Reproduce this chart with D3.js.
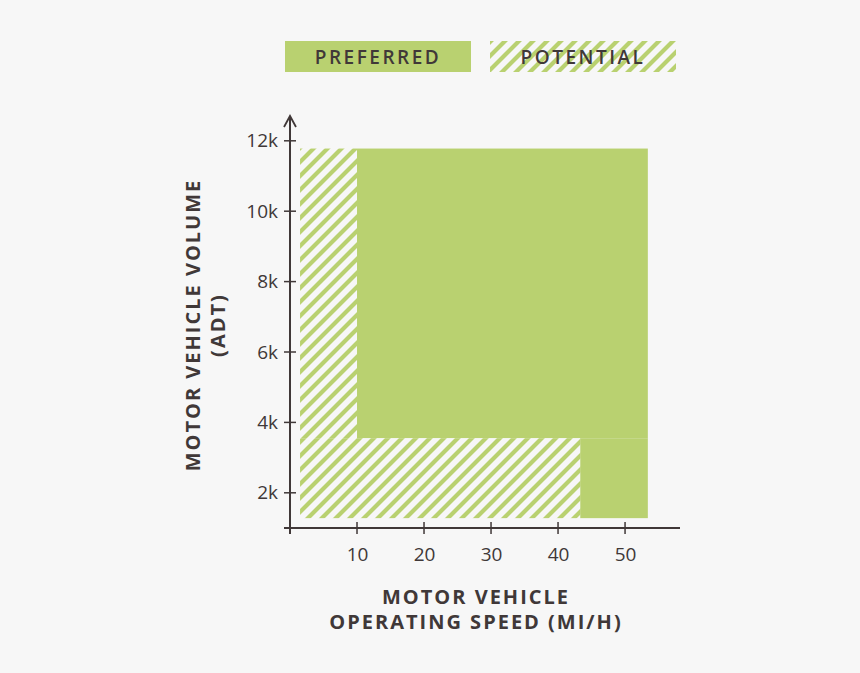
<!DOCTYPE html><html><head><script src="https://cdn.jsdelivr.net/npm/d3@7"></script>
<style>body{margin:0;background:#f7f7f7}</style></head><body><svg id="c" width="860" height="673"></svg>
<script>
const xTicks=[10,20,30,40,50];
const yTicks=[2,4,6,8,10,12];
const yTickLabels=["2k","4k","6k","8k","10k","12k"];
const preferredRegions=[{x0:10,x1:53.4,y0:3.55,y1:11.78},{x0:43.3,x1:53.4,y0:1.28,y1:3.55}];
const potentialRegions=[{x0:1.5,x1:10,y0:3.55,y1:11.78},{x0:1.5,x1:43.3,y0:1.28,y1:3.55}];
const legendLabels=["PREFERRED","POTENTIAL"];
const green="#b9d170",ink="#403838";
const svg=d3.select("#c");
svg.append("rect").attr("width",860).attr("height",673).attr("fill","#f7f7f7");
const defs=svg.append("defs");
const p=defs.append("pattern").attr("id","h").attr("patternUnits","userSpaceOnUse").attr("width",14).attr("height",14);
p.append("rect").attr("width",14).attr("height",14).attr("fill","#f7f7f7");
p.append("path").attr("d","M-3.5,3.5 l7,-7 M0,14 l14,-14 M10.5,17.5 l7,-7").attr("stroke",green).attr("stroke-width",4.2);
const x=d3.scaleLinear().domain([0,58.2]).range([290,680]);
const y=d3.scaleLinear().domain([1,12]).range([528,140.8]);
svg.selectAll(".pr").data(preferredRegions).join("rect").attr("x",d=>x(d.x0)).attr("width",d=>x(d.x1)-x(d.x0)).attr("y",d=>y(d.y1)).attr("height",d=>y(d.y0)-y(d.y1)).attr("fill",green);
svg.selectAll(".po").data(potentialRegions).join("rect").attr("x",d=>x(d.x0)).attr("width",d=>x(d.x1)-x(d.x0)).attr("y",d=>y(d.y1)).attr("height",d=>y(d.y0)-y(d.y1)).attr("fill","url(#h)");
const font="'Open Sans', sans-serif";
const xa=svg.append("g").attr("transform","translate(0,528)").call(d3.axisBottom(x).tickValues(xTicks).tickSize(0).tickPadding(20));
xa.select(".domain").attr("stroke",ink).attr("stroke-width",2).attr("d","M284,0H680");
xTicks.forEach(t=>xa.append("line").attr("x1",x(t)).attr("x2",x(t)).attr("y1",-6).attr("y2",6).attr("stroke",ink).attr("stroke-width",1.5));
xa.selectAll("text").attr("font-family",font).attr("font-size",19).attr("fill",ink).attr("dy","0.71em");
const ya=svg.append("g").attr("transform","translate(290,0)").call(d3.axisLeft(y).tickValues(yTicks).tickFormat((d,i)=>yTickLabels[i]).tickSize(0).tickPadding(12));
ya.select(".domain").attr("stroke",ink).attr("stroke-width",2).attr("d","M0,534V116");
yTicks.forEach(t=>ya.append("line").attr("x1",-6).attr("x2",6).attr("y1",y(t)).attr("y2",y(t)).attr("stroke",ink).attr("stroke-width",1.5));
ya.selectAll("text").attr("font-family",font).attr("font-size",19).attr("fill",ink);
svg.append("path").attr("d","M284,127 L290,116 L296,127").attr("fill","none").attr("stroke",ink).attr("stroke-width",1.8);
svg.selectAll("text").attr("stroke","none");
const t=(xx,yy,s,rot)=>svg.append("text").attr("x",xx).attr("y",yy).attr("text-anchor","middle").attr("font-family",font).attr("font-weight",700).attr("font-size",20).attr("letter-spacing",2).attr("fill",ink).attr("transform",rot?`rotate(-90,${xx},${yy})`:null).text(s);
t(476,604,"MOTOR VEHICLE");t(476,629,"OPERATING SPEED (MI/H)");
t(200,325,"MOTOR VEHICLE VOLUME",true);t(225,325,"(ADT)",true);
const lg=[{x:285,f:green},{x:490,f:"url(#h)"}];
lg.forEach((l,i)=>{svg.append("rect").attr("x",l.x).attr("y",41).attr("width",186).attr("height",31).attr("fill",l.f);
svg.append("text").attr("x",l.x+93).attr("y",64).attr("text-anchor","middle").attr("font-family",font).attr("font-weight",600).attr("font-size",19).attr("letter-spacing",2.5).attr("fill",ink).text(legendLabels[i]);});
</script></body></html>
